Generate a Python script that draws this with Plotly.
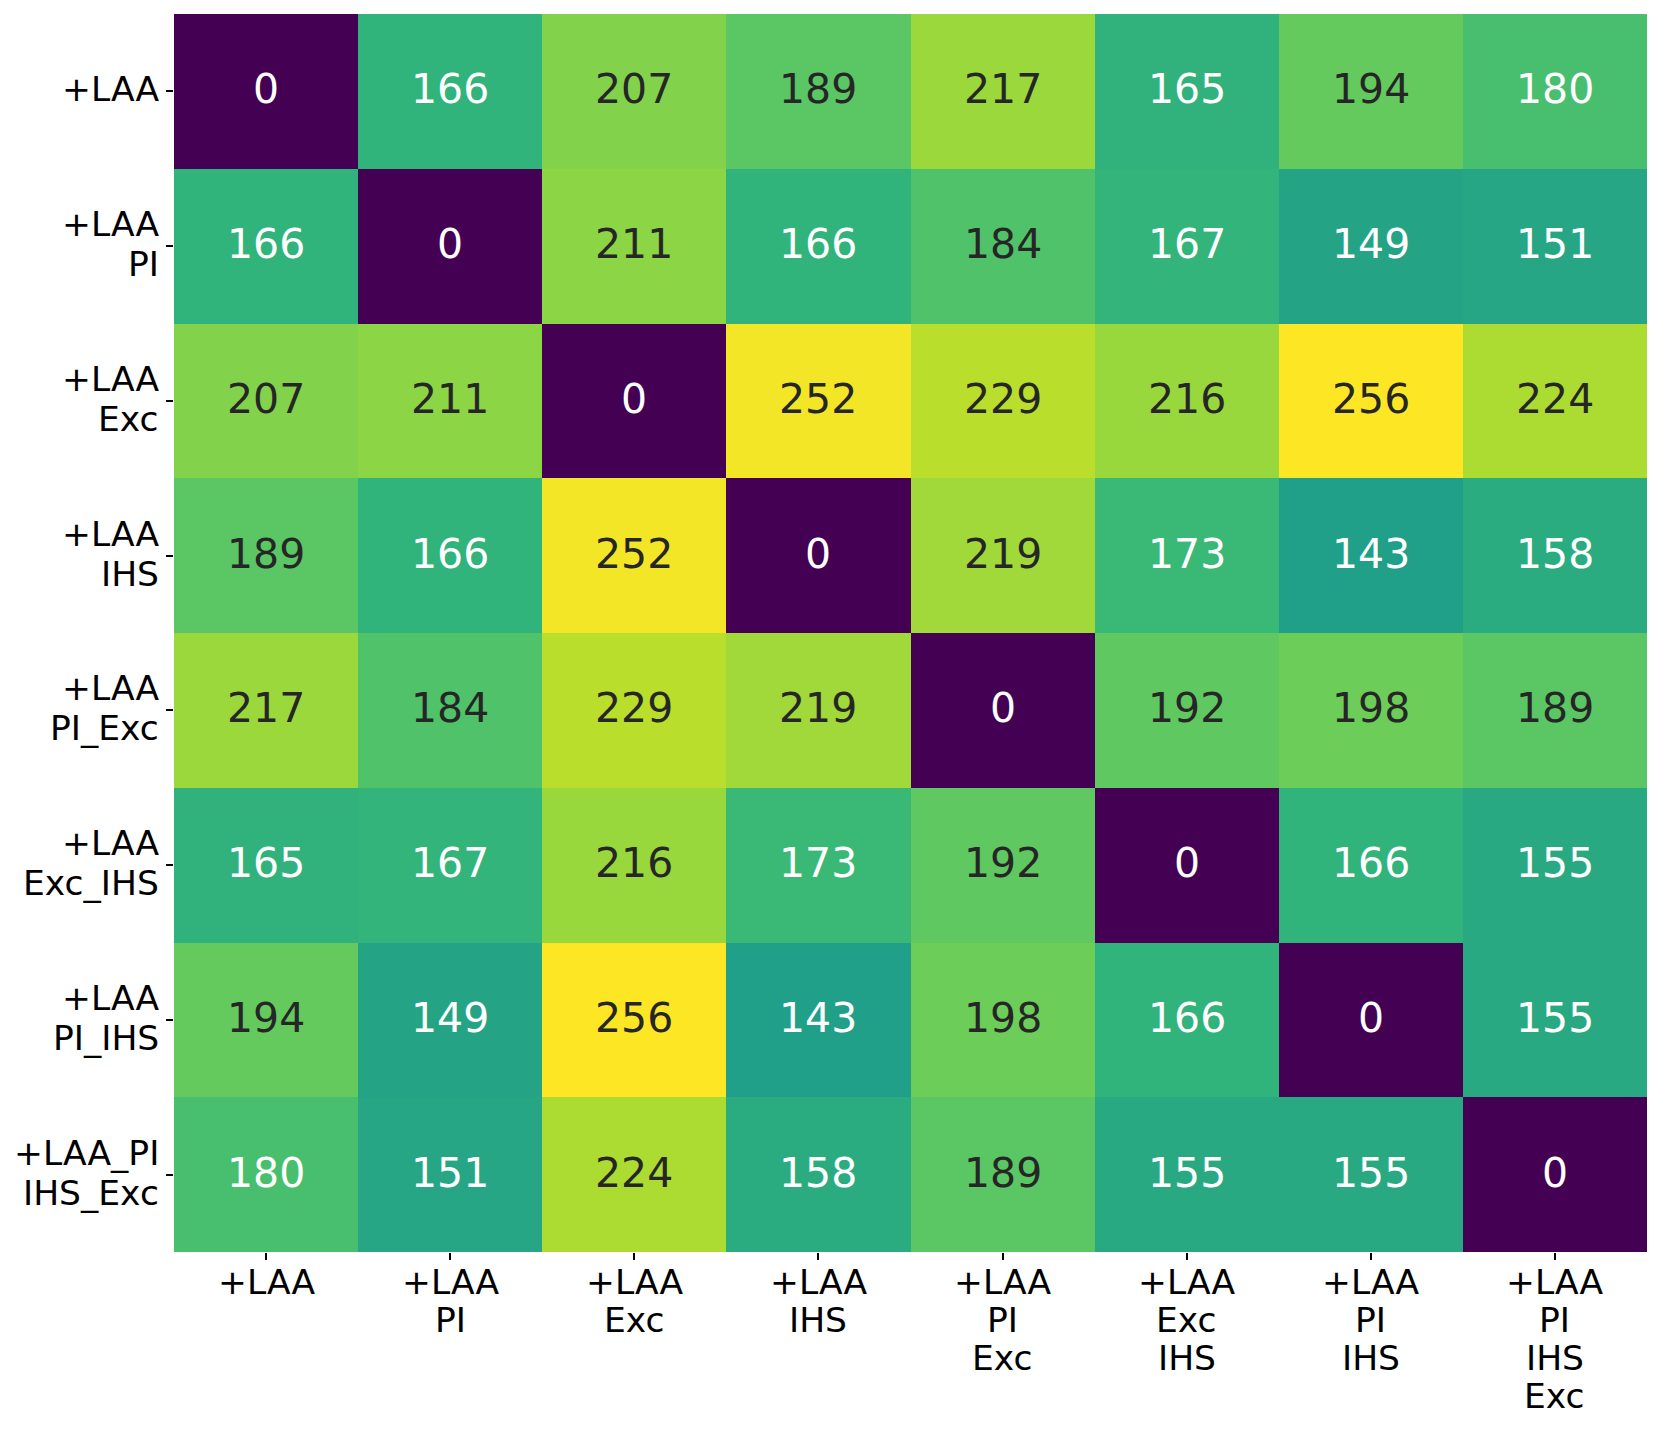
import plotly.graph_objects as go
from plotly.colors import sample_colorscale, unlabel_rgb

x_labels = ["+LAA", "+LAA<br>PI", "+LAA<br>Exc", "+LAA<br>IHS", "+LAA<br>PI<br>Exc",
            "+LAA<br>Exc<br>IHS", "+LAA<br>PI<br>IHS", "+LAA<br>PI<br>IHS<br>Exc"]
y_labels = ["+LAA", "+LAA<br>PI", "+LAA<br>Exc", "+LAA<br>IHS", "+LAA<br>PI_Exc",
            "+LAA<br>Exc_IHS", "+LAA<br>PI_IHS", "+LAA_PI<br>IHS_Exc"]

row_laa = [0, 166, 207, 189, 217, 165, 194, 180]
row_pi = [166, 0, 211, 166, 184, 167, 149, 151]
row_exc = [207, 211, 0, 252, 229, 216, 256, 224]
row_ihs = [189, 166, 252, 0, 219, 173, 143, 158]
row_pi_exc = [217, 184, 229, 219, 0, 192, 198, 189]
row_exc_ihs = [165, 167, 216, 173, 192, 0, 166, 155]
row_pi_ihs = [194, 149, 256, 143, 198, 166, 0, 155]
row_all = [180, 151, 224, 158, 189, 155, 155, 0]
z = [row_laa, row_pi, row_exc, row_ihs, row_pi_exc, row_exc_ihs, row_pi_ihs, row_all]

zmin, zmax = 0, 256
xi = list(range(len(x_labels)))
yi = list(range(len(y_labels)))

FONT = "DejaVu Sans"
TICK_SIZE = 34.5
CELL_SIZE = 41

fig = go.Figure(go.Heatmap(
    z=z, x=xi, y=yi, colorscale="Viridis", zmin=zmin, zmax=zmax,
    showscale=False, hoverinfo="skip",
))


def lum(rgb):
    vals = []
    for c in rgb:
        c = c / 255.0
        vals.append(c / 12.92 if c <= 0.03928 else ((c + 0.055) / 1.055) ** 2.4)
    return 0.2126 * vals[0] + 0.7152 * vals[1] + 0.0722 * vals[2]


annotations = []
for r, row in enumerate(z):
    for c, v in enumerate(row):
        col = sample_colorscale("Viridis", [(v - zmin) / (zmax - zmin)])[0]
        tc = "#262626" if lum(unlabel_rgb(col)) > 0.408 else "#ffffff"
        annotations.append(dict(x=c, y=r, xref="x", yref="y", text=str(v),
                                showarrow=False, xanchor="center", yanchor="middle",
                                yshift=2,
                                font=dict(size=CELL_SIZE, color=tc, family=FONT)))

# x tick labels (centered lines below the axis)
for c, lab in enumerate(x_labels):
    for i, line in enumerate(lab.split("<br>")):
        annotations.append(dict(x=c, y=0, xref="x", yref="paper", text=line,
                                showarrow=False, xanchor="center", yanchor="top",
                                yshift=-(8 + i * 38),
                                font=dict(size=TICK_SIZE, color="#000000", family=FONT)))

# y tick labels (right-aligned lines, block centred on the tick)
for r, lab in enumerate(y_labels):
    lines = lab.split("<br>")
    n = len(lines)
    for i, line in enumerate(lines):
        annotations.append(dict(x=0, y=r, xref="paper", yref="y", text=line,
                                showarrow=False, xanchor="right", yanchor="middle",
                                xshift=-13, yshift=2 - (i - (n - 1) / 2) * 40,
                                font=dict(size=TICK_SIZE, color="#000000", family=FONT)))

fig.update_layout(
    width=1654, height=1423,
    margin=dict(l=166, r=15, t=6, b=179),
    plot_bgcolor="white", paper_bgcolor="white",
    font=dict(family=FONT, size=TICK_SIZE, color="#000000"),
    annotations=annotations,
)
fig.update_xaxes(tickmode="array", tickvals=xi, ticks="outside", showticklabels=False,
                 ticklen=7, tickwidth=1.5, tickcolor="#000000", showgrid=False,
                 zeroline=False, showline=False, range=[-0.5, 7.5], automargin=False)
fig.update_yaxes(tickmode="array", tickvals=yi, ticks="outside", showticklabels=False,
                 ticklen=7, tickwidth=1.5, tickcolor="#000000", showgrid=False,
                 zeroline=False, showline=False, range=[7.5, -0.5], automargin=False)

fig.write_html("out.html")
